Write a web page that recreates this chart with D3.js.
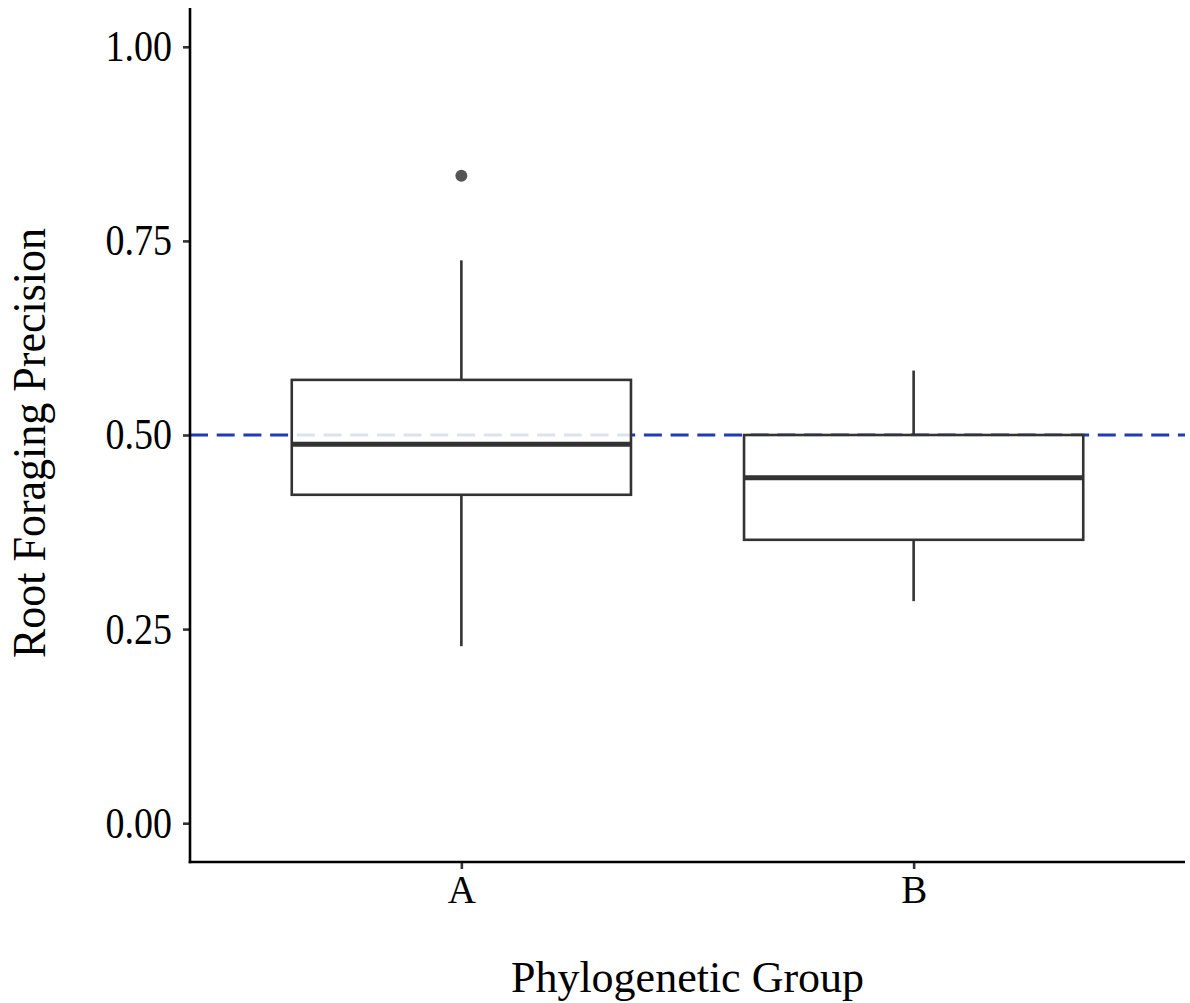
<!DOCTYPE html>
<html>
<head>
<meta charset="utf-8">
<script src="https://cdn.jsdelivr.net/npm/d3@7"></script>
<style>
  body { margin: 0; background: #fff; }
  text { font-family: "Liberation Serif", "Times New Roman", serif; fill: #000; }
</style>
</head>
<body>
<div class="chart"></div>
<script>
// values
var groups = ["A", "B"];
var q1 = [0.423, 0.365];
var medians = [0.488, 0.445];
var q3 = [0.571, 0.500];
var whiskerLow = [0.228, 0.286];
var whiskerHigh = [0.725, 0.583];
var outliers = [{ group: "A", value: 0.834 }];
var yTicks = [0, 0.25, 0.5, 0.75, 1.0];
var refLine = 0.5;

var svgWidth = 1190;
var svgHeight = 1003;

var margin = { top: 8, right: 5, bottom: 141, left: 190 };
var width = svgWidth - margin.left - margin.right;
var height = svgHeight - margin.top - margin.bottom;

var svg = d3.select(".chart")
  .append("svg")
  .attr("width", svgWidth)
  .attr("height", svgHeight);

var chartGroup = svg.append("g")
  .attr("transform", `translate(${margin.left}, ${margin.top})`);

// scales, with ggplot style expansion
var xScale = d3.scalePoint()
  .domain(groups)
  .range([0, width])
  .padding(0.6);

var yScale = d3.scaleLinear()
  .domain([-0.05, 1.05])
  .range([height, 0]);

var boxWidth = xScale.step() * 0.75;

var boxes = groups.map(function (g, i) {
  return { group: g, q1: q1[i], med: medians[i], q3: q3[i], lo: whiskerLow[i], hi: whiskerHigh[i] };
});

// reference line (drawn first so the boxes partly cover it)
chartGroup.append("line")
  .attr("x1", 0)
  .attr("x2", width)
  .attr("y1", yScale(refLine))
  .attr("y2", yScale(refLine))
  .attr("stroke", "#1f3bb5")
  .attr("stroke-width", 3)
  .attr("stroke-dasharray", "18,8.7");

var boxGroup = chartGroup.selectAll(".box")
  .data(boxes)
  .enter()
  .append("g")
  .attr("class", "box");

// whiskers
boxGroup.append("line")
  .attr("x1", d => xScale(d.group))
  .attr("x2", d => xScale(d.group))
  .attr("y1", d => yScale(d.q3))
  .attr("y2", d => yScale(d.hi))
  .attr("stroke", "#333")
  .attr("stroke-width", 2.6);

boxGroup.append("line")
  .attr("x1", d => xScale(d.group))
  .attr("x2", d => xScale(d.group))
  .attr("y1", d => yScale(d.q1))
  .attr("y2", d => yScale(d.lo))
  .attr("stroke", "#333")
  .attr("stroke-width", 2.6);

// boxes
boxGroup.append("rect")
  .attr("x", d => xScale(d.group) - boxWidth / 2)
  .attr("y", d => yScale(d.q3))
  .attr("width", boxWidth)
  .attr("height", d => yScale(d.q1) - yScale(d.q3))
  .attr("fill", "#fff")
  .attr("fill-opacity", 0.85)
  .attr("stroke", "#333")
  .attr("stroke-width", 2.6);

// medians
boxGroup.append("line")
  .attr("x1", d => xScale(d.group) - boxWidth / 2)
  .attr("x2", d => xScale(d.group) + boxWidth / 2)
  .attr("y1", d => yScale(d.med))
  .attr("y2", d => yScale(d.med))
  .attr("stroke", "#333")
  .attr("stroke-width", 5);

// outliers
chartGroup.selectAll(".outlier")
  .data(outliers)
  .enter()
  .append("circle")
  .attr("class", "outlier")
  .attr("cx", d => xScale(d.group))
  .attr("cy", d => yScale(d.value))
  .attr("r", 6)
  .attr("fill", "#555");

// axes
var leftAxis = d3.axisLeft(yScale)
  .tickValues(yTicks)
  .tickFormat(d3.format(".2f"))
  .tickSize(7)
  .tickPadding(11);

var bottomAxis = d3.axisBottom(xScale)
  .tickSize(7)
  .tickPadding(6);

var yAxis = chartGroup.append("g").call(leftAxis);
var xAxis = chartGroup.append("g")
  .attr("transform", `translate(0, ${height})`)
  .call(bottomAxis);

[yAxis, xAxis].forEach(function (ax) {
  ax.select(".domain").remove();
  ax.selectAll(".tick line").attr("stroke", "#333").attr("stroke-width", 2.6);
  ax.selectAll(".tick text")
    .attr("fill", "#000")
    .style("font-family", "'Liberation Serif', 'Times New Roman', serif");
});

// the reference lettering is a little taller than it is wide
yAxis.selectAll(".tick text")
  .style("font-size", "38px")
  .attr("transform", "scale(1,1.15)");

xAxis.selectAll(".tick text")
  .style("font-size", "39px");

// axis lines
chartGroup.append("line")
  .attr("x1", 0).attr("x2", 0)
  .attr("y1", 0).attr("y2", height + 1.3)
  .attr("stroke", "#000").attr("stroke-width", 2.6);

chartGroup.append("line")
  .attr("x1", -1.3).attr("x2", width)
  .attr("y1", height).attr("y2", height)
  .attr("stroke", "#000").attr("stroke-width", 2.6);

// axis titles
svg.append("text")
  .attr("x", margin.left + width / 2)
  .attr("y", 992)
  .attr("text-anchor", "middle")
  .style("font-size", "44px")
  .text("Phylogenetic Group");

svg.append("text")
  .attr("transform", "translate(45, 443) rotate(-90) scale(1,1.05)")
  .attr("text-anchor", "middle")
  .style("font-size", "44px")
  .text("Root Foraging Precision");
</script>
</body>
</html>
